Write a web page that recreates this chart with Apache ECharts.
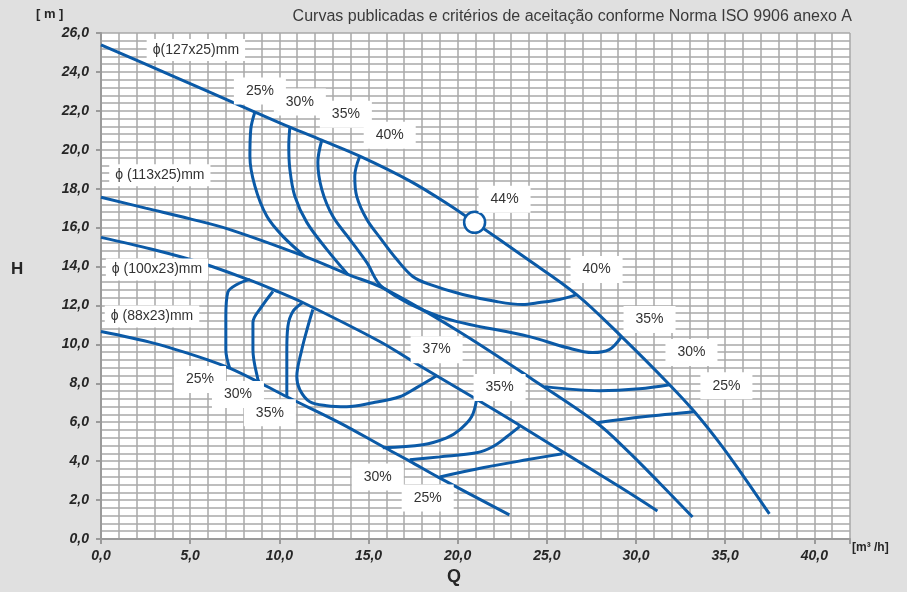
<!DOCTYPE html>
<html><head><meta charset="utf-8">
<script src="https://cdn.jsdelivr.net/npm/echarts@6/dist/echarts.min.js"></script>
<style>html,body{margin:0;padding:0;background:#e0e0e0}#c{width:907px;height:592px}</style>
</head><body><div id="c"></div>
<script>
// ---- data (Q [m3/h], H [m]) ----
const curve127 = [[0,25.39],[4,23.8],[8.63,21.94],[10.59,21.16],[12.38,20.49],[14.51,19.67],[17.31,18.4],[19.55,17.15],[20.95,16.27],[23.8,14.45],[26.67,12.56],[29.19,10.4],[31.88,7.93],[33.28,6.54],[34.68,4.94],[35.97,3.3],[37.48,1.29]];
const curve113 = [[0,17.56],[2.5,17.0],[5,16.45],[7.23,15.9],[11.43,14.52],[13.84,13.6],[15.8,12.9],[20,10.7],[24.2,8.2],[27.79,5.97],[29.47,4.58],[31.32,2.88],[33.17,1.13]];
const curve100 = [[0,15.5],[2.8,14.9],[5.55,14.21],[8.35,13.3],[9.64,12.82],[11.43,12.1],[15.63,10.15],[17.31,9.22],[18.82,8.39],[22.3,6.5],[25.71,4.58],[29.08,2.68],[31.2,1.44]];
const curve88 = [[0,10.66],[3,10.05],[5.94,9.22],[7.28,8.75],[8.9,8.03],[10.42,7.31],[13.39,5.97],[15.8,4.75],[17.31,4.0],[18.88,3.19],[22.9,1.24]];

const eff127_25 = [[8.63,21.94],[8.4,21.06],[8.35,19.67],[8.63,18.13],[9.3,16.58],[10.2,15.55],[11.43,14.52]];
const eff127_30 = [[10.59,21.16],[10.53,20.19],[10.59,19.0],[10.87,17.61],[11.54,16.27],[12.66,14.88],[13.84,13.59]];
const eff127_35 = [[12.38,20.49],[12.16,19.36],[12.38,17.97],[13.0,16.58],[13.95,15.4],[14.9,14.21],[15.8,12.92],[19.0,11.43],[24.03,10.4],[26.11,9.84],[27.56,9.58],[28.5,9.73],[29.19,10.4]];
const eff127_40 = [[14.51,19.67],[14.23,18.64],[14.34,17.61],[14.9,16.43],[15.63,15.5],[16.58,14.37],[17.48,13.49],[18.43,13.08],[20.28,12.56],[22.18,12.2],[23.64,12.05],[24.59,12.15],[25.71,12.31],[26.67,12.56]];
const eff113_30 = [[24.87,7.83],[27.96,7.62],[30.2,7.72],[31.88,7.93]];
const eff113_25 = [[27.79,5.97],[30.4,6.28],[33.28,6.54]];

const eff100_25 = [[8.35,13.34],[7.62,13.08],[7.11,12.67],[7.0,11.43],[7.0,9.73],[7.23,8.75]];
const eff100_30 = [[9.64,12.72],[9.02,11.95],[8.52,11.12],[8.52,9.73],[8.8,8.19],[8.91,8.03]];
const eff100_35 = [[11.32,12.15],[10.76,11.69],[10.48,10.92],[10.42,9.73],[10.42,7.31]];
const eff100_37 = [[11.88,11.79],[11.6,10.92],[11.26,9.73],[10.98,8.34],[11.15,7.67],[11.71,7.05],[12.66,6.85],[13.78,6.8],[15.24,7.0],[16.75,7.31],[17.7,7.78],[18.82,8.39]];

const eff88_35 = [[21.06,7.16],[20.78,6.28],[20.11,5.61],[19.38,5.2],[18.04,4.84],[15.8,4.69]];
const eff88_30 = [[23.47,5.77],[22.75,5.25],[21.96,4.74],[21.06,4.43],[19.0,4.22],[17.31,4.07]];
const eff88_25 = [[25.88,4.38],[23.87,4.07],[21.4,3.66],[19.0,3.19]];

const bestPoint = [[20.95,16.27]];

const effLabels = [[8.91,23.02,'25%'],[11.15,22.45,'30%'],[13.73,21.83,'35%'],[16.19,20.75,'40%'],[22.63,17.46,'44%'],[27.79,13.85,'40%'],[30.76,11.28,'35%'],[33.11,9.58,'30%'],[35.07,7.88,'25%'],[18.82,9.73,'37%'],[5.55,8.19,'25%'],[7.68,7.42,'30%'],[9.47,6.49,'35%'],[22.35,7.78,'35%'],[15.52,3.19,'30%'],[18.32,2.11,'25%']];
const diamLabels = [[5.32,25.13,'ϕ(127x25)mm'],[3.3,18.69,'ϕ (113x25)mm'],[3.14,13.85,'ϕ (100x23)mm'],[2.86,11.43,'ϕ (88x23)mm']];

const xTicks = [0,5,10,15,20,25,30,35,40];
const yTicks = [0,2,4,6,8,10,12,14,16,18,20,22,24,26];
const title = 'Curvas publicadas e critérios de aceitação conforme Norma ISO 9906 anexo A';

// ---- chart ----
const BLUE = '#0b5aa7';
const fmt = v => v.toFixed(1).replace('.', ',');
const lineSeries = (d) => ({type:'line', data:d, smooth:0.35, symbol:'none', lineStyle:{color:BLUE, width:3}, z:3, silent:true});
const chart = echarts.init(document.getElementById('c'), null, {renderer:'canvas'});
const labelStyle = {fontFamily:'Liberation Sans, Arial, sans-serif', fontWeight:'bold', fontStyle:'italic', fontSize:14, color:'#262626'};
const textLabelSeries = (arr, pad) => ({
  type:'scatter', z:6, symbolSize:2, silent:true,
  itemStyle:{color:'transparent', opacity:1},
  data:arr.map(d => ({value:[d[0],d[1]], name:d[2]})),
  label:{show:true, position:'inside', formatter:'{b}', backgroundColor:'#ffffff', padding:pad,
         fontFamily:'Liberation Sans, Arial, sans-serif', fontSize:14, color:'#333'},
  labelLayout:{hideOverlap:false}
});
chart.setOption({
  backgroundColor:'#e0e0e0',
  animation:false,
  grid:{left:101, right:57, top:33, bottom:53, show:true, backgroundColor:'#fff', borderWidth:0},
  xAxis:[
    {type:'value', min:0, max:42, interval:1,
     axisLine:{show:true, lineStyle:{color:'#9a9a9a', width:2}}, axisTick:{show:false},
     axisLabel:{margin:10, formatter:v => xTicks.indexOf(v) >= 0 ? fmt(v) : '', ...labelStyle},
     splitLine:{show:true, lineStyle:{color:'#a9a9a9', width:1.5}}},
    {type:'value', min:0, max:42, interval:5, position:'bottom', gridIndex:0,
     axisLine:{show:false}, axisLabel:{show:false}, splitLine:{show:false},
     axisTick:{show:true, length:5, lineStyle:{color:'#9a9a9a', width:2}}}
  ],
  yAxis:[
    {type:'value', min:0, max:26, interval:0.4,
     axisLine:{show:true, lineStyle:{color:'#9a9a9a', width:2}}, axisTick:{show:false},
     axisLabel:{margin:12, formatter:v => yTicks.some(t => Math.abs(t - v) < 1e-6) ? fmt(v) : '', ...labelStyle},
     splitLine:{show:true, lineStyle:{color:'#a9a9a9', width:1.5}}},
    {type:'value', min:0, max:26, interval:2, position:'left',
     axisLine:{show:false}, axisLabel:{show:false}, splitLine:{show:false},
     axisTick:{show:true, length:5, lineStyle:{color:'#9a9a9a', width:2}}}
  ],
  series:[
    lineSeries(curve127), lineSeries(curve113), lineSeries(curve100), lineSeries(curve88),
    lineSeries(eff127_25), lineSeries(eff127_30), lineSeries(eff127_35), lineSeries(eff127_40),
    lineSeries(eff113_30), lineSeries(eff113_25),
    lineSeries(eff100_25), lineSeries(eff100_30), lineSeries(eff100_35), lineSeries(eff100_37),
    lineSeries(eff88_35), lineSeries(eff88_30), lineSeries(eff88_25),
    {type:'scatter', data:bestPoint, symbol:'circle', symbolSize:21, z:5, silent:true,
     itemStyle:{color:'#fff', borderColor:BLUE, borderWidth:2.5, opacity:1}},
    textLabelSeries(effLabels, [7,12,6,12]),
    textLabelSeries(diamLabels, [4,6,4,6])
  ],
  graphic:[
    {type:'text', right:55, top:9, style:{text:title, font:'16px "Liberation Sans Narrow", "Arial Narrow", sans-serif', fill:'#3a3a3a'}},
    {type:'text', left:36, top:8, style:{text:'[ m ]', font:'bold 13px "Liberation Sans", Arial, sans-serif', fill:'#262626'}},
    {type:'text', left:11, top:261, style:{text:'H', font:'bold 17px "Liberation Sans", Arial, sans-serif', fill:'#262626'}},
    {type:'text', left:447, top:568, style:{text:'Q', font:'bold 18px "Liberation Sans", Arial, sans-serif', fill:'#262626'}},
    {type:'text', left:852, top:542, style:{text:'[m³ /h]', font:'bold 12px "Liberation Sans", Arial, sans-serif', fill:'#262626'}}
  ]
});
</script></body></html>
